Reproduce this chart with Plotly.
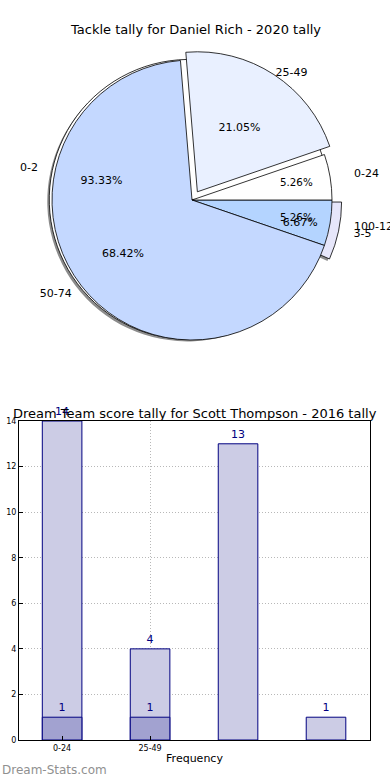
import plotly.graph_objects as go

# ---- data ----
tackle_labels = ["0-2", "3-5"]
tackle_values = [14, 1]
team_labels = ["0-24", "25-49", "50-74", "100-124"]
team_values = [1, 4, 13, 1]

bar_cats = [0, 1, 2, 3]
bar_tick_labels = ["0-24", "25-49"]
bar_light = [14, 4, 13, 1]
bar_dark = [1, 1]

pie_title = "Tackle tally for Daniel Rich - 2020 tally"
bar_title = "Dream Team score tally for Scott Thompson - 2016 tally"

# ---- styles ----
FONT = "DejaVu Sans"
W, H = 390, 780
tackle_colors = ["#ffffff", "#e6e6fa"]
tackle_pull = [0.02, 0.07]
team_colors = ["#ffffff", "#e9f0ff", "#c4d8ff", "#b4d4ff"]
team_pull = [0.0, 0.07, 0.0, 0.0]
cx, cy, R, maxpull = 192, 200, 140, 0.07


def domain_for(radius, dx=0, dy=0):
    half = min(radius * (1 + maxpull), cx + dx, W - cx - dx, cy + dy)
    return dict(x=[(cx + dx - half) / W, (cx + dx + half) / W],
                y=[1 - (cy + dy + half) / H, 1 - (cy + dy - half) / H])


def rev(a):
    return list(a)[::-1]


def pie(labels, values, colors, pull, domain, line_w=0.8, line_c="black",
        textpos="inside", texttemplate=None):
    return go.Pie(
        labels=rev(labels), values=rev(values), pull=rev(pull),
        marker=dict(colors=rev(colors), line=dict(color=line_c, width=line_w)),
        domain=domain, sort=False, direction="clockwise", rotation=90,
        textinfo="none" if texttemplate is None else "text",
        textposition=textpos,
        texttemplate=rev(texttemplate) if texttemplate is not None else None,
        insidetextorientation="horizontal",
        textfont=dict(family=FONT, size=11, color="black"),
        showlegend=False, hoverinfo="skip",
    )


def text_pie(labels, values, pull, scale, show, kind):
    n = len(labels)
    clear = ["rgba(0,0,0,0)"] * n
    if kind == "pct":
        tt = ["%{percent:.2%}" if s else " " for s in show]
        pos = "inside"
    else:
        tt = ["%{label}" if s else " " for s in show]
        pos = "outside"
    return pie(labels, values, clear, pull, domain_for(R * scale), line_w=0,
               line_c="rgba(0,0,0,0)", textpos=pos, texttemplate=tt)


fig = go.Figure()
# shadow of tackle pie
fig.add_trace(pie(tackle_labels, tackle_values, ["#8c8c8c"] * 2, tackle_pull,
                  domain_for(R, -2, 2), line_w=0, line_c="rgba(0,0,0,0)"))
# tackle pie, then team pie on top
fig.add_trace(pie(tackle_labels, tackle_values, tackle_colors, tackle_pull, domain_for(R)))
fig.add_trace(pie(team_labels, team_values, team_colors, team_pull, domain_for(R)))

# percentage texts (library placement, radius tuned per slice size)
fig.add_trace(text_pie(tackle_labels, tackle_values, tackle_pull, 1.27, [1, 0], "pct"))
fig.add_trace(text_pie(tackle_labels, tackle_values, tackle_pull, 0.88, [0, 1], "pct"))
fig.add_trace(text_pie(team_labels, team_values, team_pull, 1.25, [0, 0, 1, 0], "pct"))
fig.add_trace(text_pie(team_labels, team_values, team_pull, 0.9, [0, 1, 0, 0], "pct"))
fig.add_trace(text_pie(team_labels, team_values, team_pull, 0.88, [1, 0, 0, 1], "pct"))
# category labels outside
fig.add_trace(text_pie(tackle_labels, tackle_values, tackle_pull, 1.08, [1, 1], "lab"))
fig.add_trace(text_pie(team_labels, team_values, team_pull, 1.06, [0, 0, 1, 0], "lab"))
fig.add_trace(text_pie(team_labels, team_values, team_pull, 0.98, [0, 1, 0, 0], "lab"))
fig.add_trace(text_pie(team_labels, team_values, team_pull, 1.15, [1, 0, 0, 1], "lab"))

# ---- bar chart ----
navy = "#000080"
fig.add_trace(go.Bar(
    x=bar_cats, y=bar_light, width=0.45,
    marker=dict(color="#ccccE5", line=dict(color=navy, width=1)),
    text=[str(v) for v in bar_light], textposition="outside",
    textfont=dict(family=FONT, size=11, color=navy), cliponaxis=False,
    xaxis="x", yaxis="y", showlegend=False, hoverinfo="skip"))
fig.add_trace(go.Bar(
    x=bar_cats[:len(bar_dark)], y=bar_dark, width=0.45,
    marker=dict(color="#a2a2d0", line=dict(color=navy, width=1)),
    text=[str(v) for v in bar_dark], textposition="outside",
    textfont=dict(family=FONT, size=11, color=navy), cliponaxis=False,
    xaxis="x", yaxis="y", showlegend=False, hoverinfo="skip"))

x0, x1, ytop, ybot = 19, 370, 421, 740
grid = dict(showgrid=True, gridcolor="#b8b8b8", griddash="1px,2px", gridwidth=1,
            zeroline=False, showline=True, mirror=True, linecolor="black",
            linewidth=1, ticks="inside", ticklen=4, tickcolor="black",
            tickfont=dict(size=8), automargin=False)
fig.update_layout(
    width=W, height=H, margin=dict(l=0, r=0, t=0, b=0, autoexpand=False),
    paper_bgcolor="white", plot_bgcolor="white",
    font=dict(family=FONT, color="black"),
    barmode="overlay",
    xaxis=dict(domain=[x0 / W, x1 / W], range=[-0.49, 3.5],
               tickvals=bar_cats[:len(bar_tick_labels)], ticktext=bar_tick_labels,
               title=dict(text="Frequency", font=dict(size=11), standoff=2), **grid),
    yaxis=dict(domain=[1 - ybot / H, 1 - ytop / H], range=[0, 14], dtick=2, **grid),
    annotations=[
        dict(text=pie_title, x=0.5, y=1 - 30 / H, xref="paper", yref="paper",
             showarrow=False, font=dict(size=13), xanchor="center", yanchor="middle"),
        dict(text=bar_title, x=0.5, y=1 - 413 / H, xref="paper", yref="paper",
             showarrow=False, font=dict(size=13), xanchor="center", yanchor="middle"),
        dict(text="Dream-Stats.com", x=0, y=1 - 770 / H, xref="paper", yref="paper",
             showarrow=False, font=dict(size=12, color="#909090"),
             xanchor="left", yanchor="middle"),
    ],
)

fig.write_html("out.html", config={"displayModeBar": False},
               post_script="document.body.style.margin='0px';")
